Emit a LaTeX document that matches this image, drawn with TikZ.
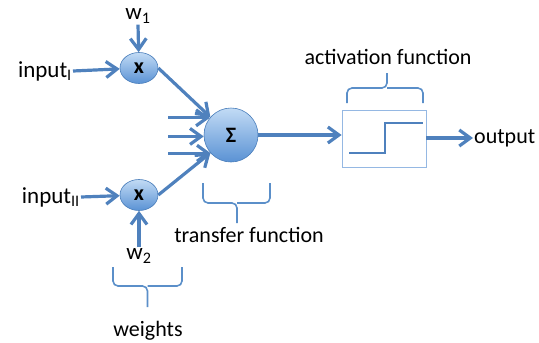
\documentclass[tikz,border=0pt]{standalone}
\usepackage{fontspec}
\setmainfont{Carlito}
\usetikzlibrary{arrows.meta,shapes.geometric,calc}
\definecolor{arr}{HTML}{4F81BD}
\definecolor{brc}{HTML}{5B8FC9}
\definecolor{ctop}{HTML}{C2DBF5}
\definecolor{cbot}{HTML}{5A92D4}
\definecolor{cbord}{HTML}{4A7EBB}
\definecolor{boxc}{HTML}{95B8E3}
\tikzset{
  conn/.style={draw=arr,line width=3.2pt,-{Straight Barb[length=11pt,width=16pt]}},
  mult/.style={ellipse,minimum width=38pt,minimum height=31pt,inner sep=0pt,draw=cbord,line width=0.6pt,top color=ctop,bottom color=cbot,font=\fontsize{22}{22}\selectfont\bfseries},
  sumc/.style={circle,minimum size=54pt,inner sep=0pt,draw=cbord,line width=0.6pt,top color=ctop,bottom color=cbot,font=\fontsize{22}{22}\selectfont\bfseries},
  lbl/.style={inner sep=1pt,font=\fontsize{22}{22}\selectfont},
  inlbl/.style={inner sep=1pt,font=\fontsize{23}{23}\selectfont},
  brace/.style={draw=brc,line width=1.6pt,rounded corners=5pt},
}
\begin{document}
\begin{tikzpicture}[x=1pt,y=-1pt]
\useasboundingbox (0,0) rectangle (539,343);
% nodes
\node[mult] (x1) at (139,68) {x};
\node[mult] (x2) at (139,195) {x};
\node[sumc] (s) at (231,135) {Σ};
\node[inlbl,anchor=east] (in1) at (73,71) {input\textsubscript{I}};
\node[inlbl,anchor=east] (in2) at (81,197) {input\textsubscript{II}};
\node[inlbl] (w1) at (138,16) {w\textsubscript{1}};
\node[inlbl] (w2) at (139,256) {w\textsubscript{2}};
\node[draw=boxc,line width=0.8pt,fill=white,minimum width=84pt,minimum height=57pt,inner sep=0pt] (box) at (384,138.5) {};
\node[lbl,anchor=west] (out) at (473,138) {output};
\node[lbl] (act) at (388,57) {activation function};
\node[lbl] (tf) at (249,235) {transfer function};
\node[lbl] (wt) at (148,331) {weights};
% step function
\draw[draw=arr,line width=2pt] (349,153) -- (385,153) -- (385,123) -- (423,123);
% connectors
\draw[conn] (in1.east) -- (x1);
\draw[conn] (in2.east) -- (x2);
\draw[conn] (w1.south) -- (x1);
\draw[conn] (w2.north) -- (x2);
\draw[conn] (x1.east) -- (s.139);
\draw[conn] (x2.east) -- (s.221);
\coordinate (L) at (168,0);
\draw[conn] (s.141 -| L) -- (s.141);
\draw[conn] (s.183 -| L) -- (s.183);
\draw[conn] (s.222 -| L) -- (s.222);
\draw[conn] (s.east) -- (box.west |- s.east);
\draw[conn] (box.east |- out.west) -- (out.west);
% braces
\draw[brace] (113,267) -- (113,286) -- (147.5,286) -- (147.5,307);
\draw[brace] (182,267) -- (182,286) -- (147.5,286);
\draw[brace] (203,183) -- (203,203) -- (237,203) -- (237,223);
\draw[brace] (270,183) -- (270,203) -- (237,203);
\draw[brace] (347,103) -- (347,88) -- (387,88) -- (387,73);
\draw[brace] (423,103) -- (423,88) -- (387,88);
\end{tikzpicture}
\end{document}
